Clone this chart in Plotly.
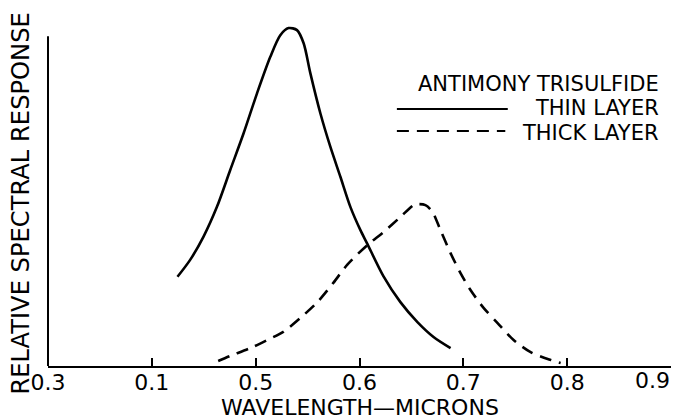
import plotly.graph_objects as go

# Thin layer (solid) — wavelength (microns), relative response
thin_wl = [0.4247, 0.4369, 0.4498, 0.4627, 0.4755, 0.4883, 0.5013, 0.5141, 0.5237, 0.5317,
           0.5398, 0.5462, 0.5527, 0.5623, 0.5719, 0.5816, 0.5912, 0.6009, 0.6073, 0.6230,
           0.6394, 0.6558, 0.6713, 0.6877]
thin_resp = [26.4, 31.4, 38.3, 47.1, 58.0, 68.8, 80.7, 91.5, 97.9, 100.0,
             99.4, 95.5, 86.6, 74.8, 64.9, 56.0, 47.1, 40.2, 36.3, 26.6,
             18.9, 13.0, 8.6, 5.3]

# Thick layer (dashed)
thick_wl = [0.4639, 0.4755, 0.4948, 0.5112, 0.5266, 0.5430, 0.5594, 0.5748, 0.5883, 0.6076,
            0.6230, 0.6394, 0.6520, 0.6558, 0.6635, 0.6703, 0.6780, 0.6877, 0.6973, 0.7069,
            0.7195, 0.7330, 0.7484, 0.7648, 0.7841, 0.7937]
thick_resp = [1.5, 3.0, 5.3, 7.7, 10.1, 14.2, 18.9, 24.6, 30.0, 35.8,
              39.6, 44.1, 47.6, 47.9, 47.6, 45.6, 40.2, 33.4, 27.5, 22.5,
              17.2, 12.7, 7.7, 4.1, 1.8, 0.9]

tick_vals = [0.3, 0.4, 0.5, 0.6, 0.7, 0.8, 0.9]
tick_text = ["0.3", "0.1", "0.5", "0.6", "0.7", "0.8", ""]

FONT = "DejaVu Sans"
DASH = "12px,8px"
FS = 22
LFS = 21

fig = go.Figure()
fig.add_trace(go.Scatter(x=thin_wl, y=thin_resp, mode="lines", name="THIN LAYER",
                         line=dict(color="black", width=2.6, shape="spline", smoothing=0.8)))
fig.add_trace(go.Scatter(x=thick_wl, y=thick_resp, mode="lines", name="THICK LAYER",
                         line=dict(color="black", width=2.6, dash=DASH, shape="spline", smoothing=0.8)))

fig.update_layout(
    width=675, height=419,
    margin=dict(l=48, r=4, t=20, b=53),
    paper_bgcolor="white", plot_bgcolor="white",
    showlegend=False,
    font=dict(family=FONT, size=FS, color="black"),
    xaxis=dict(range=[0.3, 0.9], showline=True, linecolor="black", linewidth=2,
               ticks="inside", ticklen=8, tickwidth=1.5, tickcolor="black",
               tickvals=tick_vals, ticktext=tick_text, showgrid=False, zeroline=False,
               ticklabelstandoff=-4, automargin=False,
               tickfont=dict(family=FONT, size=FS)),
    yaxis=dict(range=[0, 102.4], showline=False, showticklabels=False, ticks="",
               showgrid=False, zeroline=False, automargin=False),
)

# y-axis line (shorter than plot height, as in original)
fig.add_shape(type="line", xref="paper", yref="y", x0=0, x1=0, y0=0, y1=97.6,
              line=dict(color="black", width=2))

# Last tick label (right-aligned to fit in figure)
fig.add_annotation(x=0.9, y=0, xref="x", yref="paper", text="0.9", showarrow=False,
                   xanchor="right", yanchor="middle", yshift=-14, xshift=1,
                   font=dict(family=FONT, size=FS))

# Axis titles
fig.add_annotation(x=0.5, y=-0.1185, xref="paper", yref="paper", text="WAVELENGTH\u2014MICRONS",
                   showarrow=False, xanchor="center", yanchor="middle",
                   font=dict(family=FONT, size=FS))
fig.add_annotation(x=-0.0425, y=0.468, xref="paper", yref="paper", text="RELATIVE SPECTRAL RESPONSE",
                   showarrow=False, textangle=-90, xanchor="center", yanchor="middle",
                   font=dict(family=FONT, size=24.2))

# Legend
fig.add_annotation(x=0.984, y=0.815, xref="paper", yref="paper", text="ANTIMONY TRISULFIDE",
                   showarrow=False, xanchor="right", yanchor="middle", font=dict(family=FONT, size=LFS))
fig.add_annotation(x=0.984, y=0.7457, xref="paper", yref="paper", text="THIN LAYER",
                   showarrow=False, xanchor="right", yanchor="middle", font=dict(family=FONT, size=LFS))
fig.add_annotation(x=0.984, y=0.6734, xref="paper", yref="paper", text="THICK LAYER",
                   showarrow=False, xanchor="right", yanchor="middle", font=dict(family=FONT, size=LFS))
fig.add_shape(type="line", xref="paper", yref="paper", x0=0.560, x1=0.738, y0=0.743, y1=0.743,
              line=dict(color="black", width=2))
fig.add_shape(type="line", xref="paper", yref="paper", x0=0.560, x1=0.734, y0=0.679, y1=0.679,
              line=dict(color="black", width=2, dash=DASH))

fig.write_html("out.html",
               config={"displayModeBar": False},
               post_script="document.body.style.margin='0px';"
                           "document.documentElement.style.overflow='hidden';")
